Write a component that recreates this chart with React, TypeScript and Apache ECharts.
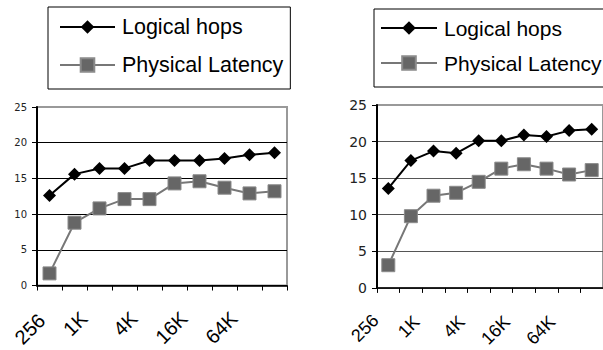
import React, { useEffect, useRef } from "react";
import * as echarts from "echarts";

const categories = ["256", "512", "1K", "2K", "4K", "8K", "16K", "32K", "64K", "128K"];
const yTicks = [0, 5, 10, 15, 20, 25];
const leftLogical = [12.6, 15.6, 16.4, 16.4, 17.5, 17.5, 17.5, 17.8, 18.3, 18.6];
const leftPhysical = [1.7, 8.8, 10.8, 12.1, 12.1, 14.3, 14.6, 13.7, 12.9, 13.2];
const rightLogical = [13.6, 17.4, 18.7, 18.4, 20.1, 20.1, 20.9, 20.7, 21.5, 21.7];
const rightPhysical = [3.1, 9.8, 12.6, 13.0, 14.5, 16.3, 16.9, 16.3, 15.5, 16.1];
const seriesNames = ["Logical hops", "Physical Latency"];

export default function App() {
  const ref = useRef<HTMLDivElement>(null);
  useEffect(() => {
    if (!ref.current) return;
    const chart = echarts.init(ref.current, undefined, { renderer: "svg" });
    const xAxisBase = (gridIndex: number, fs: number, pad: number[], firstPad: number[]) => ({
      type: "category",
      gridIndex,
      data: categories,
      boundaryGap: true,
      axisLine: { lineStyle: { color: "#000", width: 1.5 } },
      axisTick: { show: true, interval: 0, length: 5, lineStyle: { color: "#000", width: 1 } },
      axisLabel: {
        interval: 1,
        rotate: 45,
        margin: 14,
        fontSize: fs,
        fontFamily: "Liberation Sans",
        color: "#000",
        formatter: (v: string, i: number) => (i === 0 ? `{f|${v}}` : `{n|${v}}`),
        rich: {
          n: { fontSize: fs, fontFamily: "Liberation Sans", color: "#000", padding: pad },
          f: { fontSize: fs, fontFamily: "Liberation Sans", color: "#000", padding: firstPad },
        },
      },
      splitLine: { show: false },
    });
    const yAxisBase = (gridIndex: number, fs: number, gridColor: string) => ({
      type: "value",
      gridIndex,
      min: yTicks[0],
      max: yTicks[yTicks.length - 1],
      interval: 5,
      axisLine: { show: true, lineStyle: { color: "#000", width: 2 } },
      axisTick: { show: true, length: 5, lineStyle: { color: "#000", width: 1 } },
      axisLabel: {
        margin: 10,
        fontSize: fs,
        fontFamily: "DejaVu Sans",
        color: "#222",
      },
      splitLine: {
        show: true,
        showMaxLine: false,
        lineStyle: { color: gridColor, width: 1 },
      },
    });
    const logicalStyle = (xi: number, data: number[]) => ({
      name: seriesNames[0],
      type: "line",
      xAxisIndex: xi,
      yAxisIndex: xi,
      data,
      symbol: "diamond",
      symbolSize: 13,
      lineStyle: { color: "#000", width: 2 },
      itemStyle: { color: "#000" },
      z: 3,
    });
    const physicalStyle = (xi: number, data: number[]) => ({
      name: seriesNames[1],
      type: "line",
      xAxisIndex: xi,
      yAxisIndex: xi,
      data,
      symbol: "rect",
      symbolSize: 13,
      lineStyle: { color: "#777", width: 2 },
      itemStyle: { color: "#666", borderColor: "#8a8a8a", borderWidth: 1 },
      z: 2,
    });
    const legendBase = (left: number, top: number, padding: number[], itemWidth: number, gap: number, fs: number) => ({
      left,
      top,
      orient: "vertical",
      data: seriesNames,
      selectedMode: false,
      borderColor: "#000",
      borderWidth: 1,
      padding,
      itemWidth,
      itemHeight: 17,
      itemGap: gap,
      textStyle: {
        fontSize: fs,
        fontFamily: "Liberation Sans",
        color: "#000",
        lineHeight: 24,
        padding: [0, 0, 0, 2],
      },
    });
    chart.setOption({
      animation: false,
      backgroundColor: "#fff",
      legend: [
        legendBase(48, 7, [8, 7, 12, 11], 55, 14, 21.5),
        legendBase(374, 9, [7, 7, 12, 6], 56, 11, 21),
      ],
      grid: [
        { left: 37, top: 107, width: 250, height: 181, show: true, borderColor: "#999", borderWidth: 2, backgroundColor: "transparent" },
        { left: 377, top: 105, width: 228, height: 184, show: true, borderColor: "#999", borderWidth: 2, backgroundColor: "transparent" },
      ],
      xAxis: [
        xAxisBase(0, 20, [0, 22, 0, 0], [14, 18, 0, 0]),
        xAxisBase(1, 18, [0, 24, 0, 0], [4, 20, 0, 0]),
      ],
      yAxis: [yAxisBase(0, 10, "#000"), yAxisBase(1, 14, "#555")],
      series: [
        logicalStyle(0, leftLogical),
        physicalStyle(0, leftPhysical),
        logicalStyle(1, rightLogical),
        physicalStyle(1, rightPhysical),
      ],
    });
    return () => chart.dispose();
  }, []);
  return (
    <div
      ref={ref}
      style={{ position: "fixed", left: 0, top: 0, width: 603, height: 350, background: "#fff" }}
    />
  );
}
